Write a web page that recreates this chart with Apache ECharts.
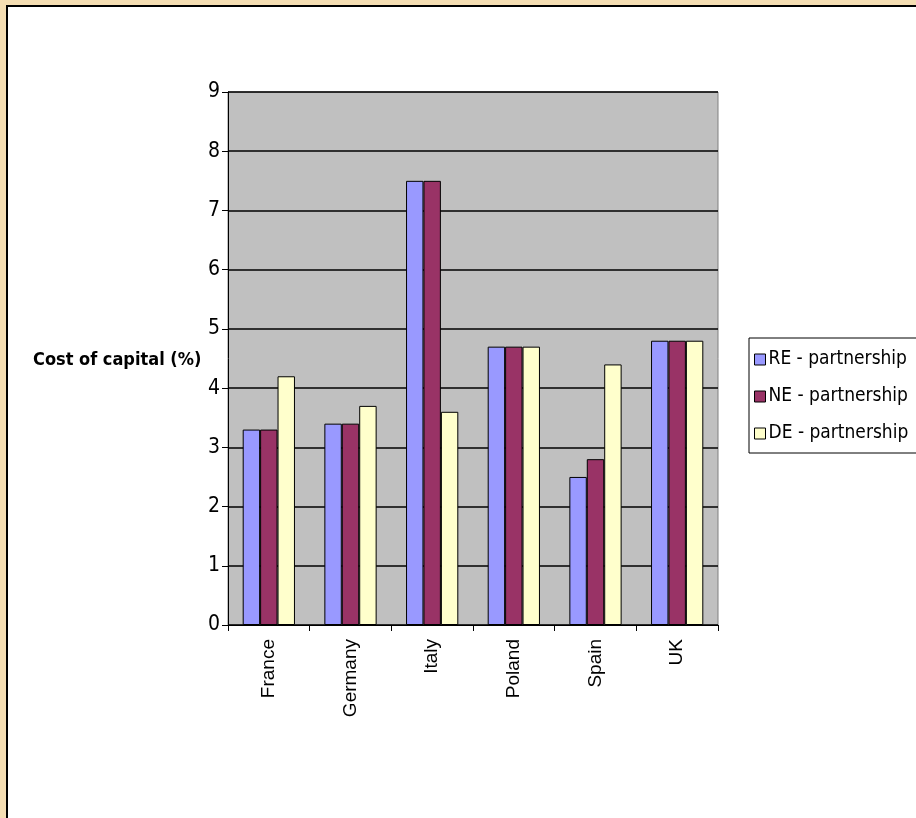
<!DOCTYPE html>
<html>
<head>
<meta charset="utf-8">
<script src="https://cdn.jsdelivr.net/npm/echarts@6/dist/echarts.min.js"></script>
<style>
  html,body{margin:0;padding:0;background:#F5DEB3;}
  .frame{position:absolute;left:6px;top:5px;width:916px;height:830px;background:#fff;border:2px solid #000;box-sizing:border-box;}
  .main{position:absolute;left:0;top:0;width:916px;height:818px;}
</style>
</head>
<body>
<div class="frame"></div>
<div class="main"></div>
<script>
var countries = ['France', 'Germany', 'Italy', 'Poland', 'Spain', 'UK'];
var seriesNames = ['RE - partnership', 'NE - partnership', 'DE - partnership'];
var reValues = [3.3, 3.4, 7.5, 4.7, 2.5, 4.8];
var neValues = [3.3, 3.4, 7.5, 4.7, 2.8, 4.8];
var deValues = [4.2, 3.7, 3.6, 4.7, 4.4, 4.8];
var colors = ['#9999FF', '#993366', '#FFFFCC'];

var narrow = '"DejaVu Sans Condensed", "Liberation Sans Narrow", Arial, sans-serif';

var myChart = echarts.init(document.querySelector('.main'));
var values = [reValues, neValues, deValues];
var series = seriesNames.map(function(n, i){
  return {
    name: n,
    type: 'bar',
    data: values[i],
    barGap: 0,
    barCategoryGap: '36%',
    itemStyle: {color: colors[i], borderColor: '#000', borderWidth: 1}
  };
});

var option = {
  animation: false,
  backgroundColor: 'transparent',
  grid: {left: 228, right: 198, top: 92, bottom: 193, show: true,
    backgroundColor: '#C0C0C0', borderColor: '#808080', borderWidth: 1},
  legend: {
    orient: 'vertical', left: 749, top: 338, width: 170,
    padding: [12, 40, 10, 5], itemGap: 18,
    backgroundColor: '#fff', borderColor: '#000', borderWidth: 1, borderRadius: 0,
    itemWidth: 11, itemHeight: 11, icon: 'rect',
    itemStyle: {borderColor: '#000', borderWidth: 1},
    textStyle: {fontFamily: narrow, fontSize: 19, color: '#000', padding: [0,0,0,-2]},
    data: seriesNames
  },
  xAxis: {
    type: 'category', data: countries,
    axisLine: {lineStyle: {color: '#000'}},
    axisTick: {show: true, length: 6, lineStyle: {color: '#000'}},
    axisLabel: {rotate: 90, color: '#000', fontFamily: 'Arial, "Liberation Sans", sans-serif',
      fontSize: 19, margin: 14}
  },
  yAxis: {
    type: 'value', min: 0, max: 9, interval: 1,
    axisLine: {show: true, lineStyle: {color: '#000'}},
    axisTick: {show: true, length: 6, lineStyle: {color: '#000'}},
    axisLabel: {color: '#000', fontFamily: narrow, fontSize: 21, margin: 8},
    splitLine: {lineStyle: {color: '#000', width: 1.5}}
  },
  graphic: [{
    type: 'text', left: 33, top: 351,
    style: {text: 'Cost of capital (%)', fontFamily: narrow, fontWeight: 'bold',
      fontSize: 18, fill: '#000'}
  }],
  series: series
};
myChart.setOption(option);
</script>
</body>
</html>
